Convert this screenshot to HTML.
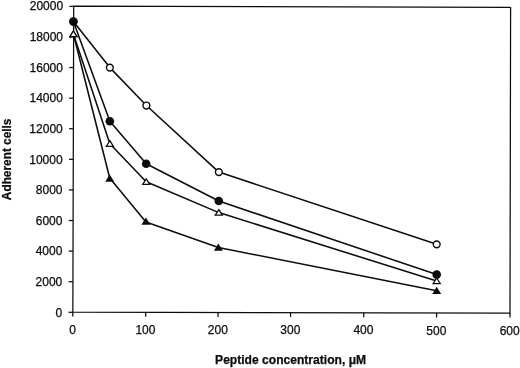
<!DOCTYPE html><html><head><meta charset="utf-8"><title>Figure</title>
<style>html,body{margin:0;padding:0;background:#fff;overflow:hidden;}svg{display:block;}text{font-family:"Liberation Sans",Arial,sans-serif;fill:#0c0c0c;stroke:#0c0c0c;stroke-width:0.25px;}</style></head><body>
<svg width="520" height="368" viewBox="0 0 520 368">
<rect width="520" height="368" fill="#fff"/>
<polygon points="73.70,6.15 510.60,7.50 510.00,313.10 72.85,312.10" fill="none" stroke="#0c0c0c" stroke-width="1.25"/>
<line x1="68.55" y1="312.30" x2="72.85" y2="312.30" stroke="#0c0c0c" stroke-width="1.25"/>
<text x="62.20" y="316.70" font-size="12" text-anchor="end">0</text>
<line x1="68.64" y1="281.70" x2="72.94" y2="281.70" stroke="#0c0c0c" stroke-width="1.25"/>
<text x="62.29" y="286.08" font-size="12" text-anchor="end">2000</text>
<line x1="68.72" y1="251.11" x2="73.02" y2="251.11" stroke="#0c0c0c" stroke-width="1.25"/>
<text x="62.38" y="255.45" font-size="12" text-anchor="end">4000</text>
<line x1="68.80" y1="220.51" x2="73.10" y2="220.51" stroke="#0c0c0c" stroke-width="1.25"/>
<text x="62.47" y="224.82" font-size="12" text-anchor="end">6000</text>
<line x1="68.89" y1="189.92" x2="73.19" y2="189.92" stroke="#0c0c0c" stroke-width="1.25"/>
<text x="62.56" y="194.20" font-size="12" text-anchor="end">8000</text>
<line x1="68.98" y1="159.32" x2="73.28" y2="159.32" stroke="#0c0c0c" stroke-width="1.25"/>
<text x="62.65" y="163.57" font-size="12" text-anchor="end">10000</text>
<line x1="69.06" y1="128.73" x2="73.36" y2="128.73" stroke="#0c0c0c" stroke-width="1.25"/>
<text x="62.74" y="132.95" font-size="12" text-anchor="end">12000</text>
<line x1="69.14" y1="98.14" x2="73.44" y2="98.14" stroke="#0c0c0c" stroke-width="1.25"/>
<text x="62.83" y="102.33" font-size="12" text-anchor="end">14000</text>
<line x1="69.23" y1="67.54" x2="73.53" y2="67.54" stroke="#0c0c0c" stroke-width="1.25"/>
<text x="62.92" y="71.70" font-size="12" text-anchor="end">16000</text>
<line x1="69.32" y1="36.94" x2="73.62" y2="36.94" stroke="#0c0c0c" stroke-width="1.25"/>
<text x="63.01" y="41.07" font-size="12" text-anchor="end">18000</text>
<line x1="69.40" y1="6.35" x2="73.70" y2="6.35" stroke="#0c0c0c" stroke-width="1.25"/>
<text x="63.10" y="10.45" font-size="12" text-anchor="end">20000</text>
<line x1="72.85" y1="312.10" x2="72.84" y2="316.60" stroke="#0c0c0c" stroke-width="1.25"/>
<text x="72.55" y="333.70" font-size="12" text-anchor="middle">0</text>
<line x1="145.75" y1="312.27" x2="145.74" y2="316.77" stroke="#0c0c0c" stroke-width="1.25"/>
<text x="145.45" y="333.87" font-size="12" text-anchor="middle">100</text>
<line x1="218.10" y1="312.43" x2="218.09" y2="316.93" stroke="#0c0c0c" stroke-width="1.25"/>
<text x="217.80" y="334.03" font-size="12" text-anchor="middle">200</text>
<line x1="290.60" y1="312.60" x2="290.59" y2="317.10" stroke="#0c0c0c" stroke-width="1.25"/>
<text x="290.30" y="334.20" font-size="12" text-anchor="middle">300</text>
<line x1="363.75" y1="312.77" x2="363.74" y2="317.27" stroke="#0c0c0c" stroke-width="1.25"/>
<text x="363.45" y="334.37" font-size="12" text-anchor="middle">400</text>
<line x1="436.60" y1="312.93" x2="436.59" y2="317.43" stroke="#0c0c0c" stroke-width="1.25"/>
<text x="436.30" y="334.53" font-size="12" text-anchor="middle">500</text>
<line x1="510.00" y1="313.10" x2="509.99" y2="317.60" stroke="#0c0c0c" stroke-width="1.25"/>
<text x="509.70" y="334.70" font-size="12" text-anchor="middle">600</text>
<text x="290.6" y="364.0" font-size="12.08" font-weight="bold" text-anchor="middle">Peptide concentration, μM</text>
<text transform="translate(10.8,159.35) rotate(-90)" font-size="11.85" font-weight="bold" text-anchor="middle">Adherent cells</text>
<polyline fill="none" stroke="#0c0c0c" stroke-width="1.55" stroke-linejoin="round" points="73.40,21.50 109.85,67.60 146.40,105.50 218.85,172.10 436.70,244.30"/>
<polyline fill="none" stroke="#0c0c0c" stroke-width="1.55" stroke-linejoin="round" points="73.40,21.50 109.85,121.20 146.20,163.80 218.80,201.00 436.70,274.60"/>
<polyline fill="none" stroke="#0c0c0c" stroke-width="1.55" stroke-linejoin="round" points="73.40,34.00 109.85,143.70 146.20,181.80 218.80,212.60 436.70,281.00"/>
<polyline fill="none" stroke="#0c0c0c" stroke-width="1.55" stroke-linejoin="round" points="73.40,34.00 109.70,178.00 145.90,222.10 218.40,247.50 436.70,290.70"/>
<polygon points="73.40,30.00 77.90,37.30 68.90,37.30" fill="#0c0c0c"/>
<polygon points="109.70,174.50 114.20,181.80 105.20,181.80" fill="#0c0c0c"/>
<polygon points="145.90,217.40 150.40,224.70 141.40,224.70" fill="#0c0c0c"/>
<polygon points="218.40,243.50 222.90,250.80 213.90,250.80" fill="#0c0c0c"/>
<polygon points="436.70,286.70 441.20,294.00 432.20,294.00" fill="#0c0c0c"/>
<circle cx="73.40" cy="21.50" r="3.4" fill="#fff" stroke="#0c0c0c" stroke-width="1.45"/>
<circle cx="109.85" cy="67.60" r="3.4" fill="#fff" stroke="#0c0c0c" stroke-width="1.45"/>
<circle cx="146.40" cy="105.50" r="3.4" fill="#fff" stroke="#0c0c0c" stroke-width="1.45"/>
<circle cx="218.85" cy="172.10" r="3.4" fill="#fff" stroke="#0c0c0c" stroke-width="1.45"/>
<circle cx="436.70" cy="244.30" r="3.4" fill="#fff" stroke="#0c0c0c" stroke-width="1.45"/>
<polygon points="73.40,31.00 76.95,36.60 69.85,36.60" fill="#fff" stroke="#0c0c0c" stroke-width="1.25" stroke-linejoin="miter"/>
<polygon points="109.85,140.70 113.40,146.30 106.30,146.30" fill="#fff" stroke="#0c0c0c" stroke-width="1.25" stroke-linejoin="miter"/>
<polygon points="146.20,178.80 149.75,184.40 142.65,184.40" fill="#fff" stroke="#0c0c0c" stroke-width="1.25" stroke-linejoin="miter"/>
<polygon points="218.80,209.60 222.35,215.20 215.25,215.20" fill="#fff" stroke="#0c0c0c" stroke-width="1.25" stroke-linejoin="miter"/>
<polygon points="436.70,278.00 440.25,283.60 433.15,283.60" fill="#fff" stroke="#0c0c0c" stroke-width="1.25" stroke-linejoin="miter"/>
<circle cx="73.40" cy="21.50" r="4.3" fill="#0c0c0c"/>
<circle cx="109.85" cy="121.20" r="4.3" fill="#0c0c0c"/>
<circle cx="146.20" cy="163.80" r="4.3" fill="#0c0c0c"/>
<circle cx="218.80" cy="201.00" r="4.3" fill="#0c0c0c"/>
<circle cx="436.70" cy="274.60" r="4.3" fill="#0c0c0c"/>
</svg></body></html>
